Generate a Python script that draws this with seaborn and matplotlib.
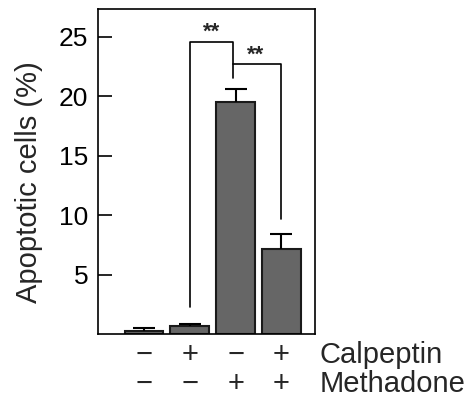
"""Bar chart of apoptotic cells with calpeptin / methadone treatment."""

import numpy as np
import pandas as pd
import seaborn as sns
import matplotlib.pyplot as plt
import matplotlib.transforms as mtransforms

groups = ["ctrl", "calpeptin", "methadone", "calpeptin+methadone"]
apoptotic = [0.30, 0.70, 19.55, 7.20]
sem = [0.26, 0.19, 1.05, 1.25]
calpeptin = ["\u2212", "+", "\u2212", "+"]
methadone = ["\u2212", "\u2212", "+", "+"]
yticks = [5, 10, 15, 20, 25]


def main() -> None:
    sns.set_theme(style="ticks")
    plt.rcParams["font.family"] = ["Liberation Sans", "DejaVu Sans"]

    fig = plt.figure(figsize=(4.72, 4.07), dpi=100)
    ax = fig.add_axes([0.2076, 0.1786, 0.4597, 0.7981])

    df = pd.DataFrame({"group": groups, "value": apoptotic})
    sns.barplot(
        data=df,
        x="group",
        y="value",
        color="#666666",
        saturation=1,
        width=0.84,
        edgecolor="#1a1a1a",
        linewidth=1.5,
        errorbar=None,
        ax=ax,
    )

    # upper error bars only
    _, caps, _ = ax.errorbar(
        np.arange(len(groups)),
        apoptotic,
        yerr=[np.zeros(len(sem)), sem],
        fmt="none",
        ecolor="black",
        elinewidth=1.5,
        capsize=8,
        capthick=1.5,
        zorder=1,
    )
    caps[0].set_visible(False)

    ax.set_xlim(-1.0, 3.73)
    ax.set_ylim(0, 27.3)
    ax.set_yticks(yticks)
    ax.set_xticks([])
    ax.set_xlabel("")
    ax.tick_params(axis="y", direction="in", length=10, width=1.2,
                   labelsize=19, pad=7, colors="black")
    for sp in ax.spines.values():
        sp.set_visible(True)
        sp.set_linewidth(1.2)
        sp.set_color("black")

    ax.set_ylabel("Apoptotic cells (%)", fontsize=21)
    ax.yaxis.set_label_coords(-0.253, 0.47)

    # significance brackets
    ax.plot([1.01, 1.01, 1.95, 1.95], [2.27, 24.56, 24.56, 21.5],
            color="black", lw=1.2)
    ax.plot([1.95, 3.0, 3.0], [22.69, 22.69, 9.69], color="black", lw=1.2)
    ax.text(1.48, 24.9, "**", ha="center", va="baseline",
            fontsize=16, fontweight="bold")
    ax.text(2.44, 23.0, "**", ha="center", va="baseline",
            fontsize=16, fontweight="bold")

    # treatment table under the bars
    trans = mtransforms.blended_transform_factory(ax.transData, ax.transAxes)
    for i in range(len(groups)):
        ax.text(i, -0.0874, calpeptin[i], transform=trans, ha="center",
                va="baseline", fontsize=21)
        ax.text(i, -0.1767, methadone[i], transform=trans, ha="center",
                va="baseline", fontsize=21)
    ax.text(1.023, -0.0874, "Calpeptin", transform=ax.transAxes,
            ha="left", va="baseline", fontsize=21)
    ax.text(1.023, -0.1767, "Methadone", transform=ax.transAxes,
            ha="left", va="baseline", fontsize=21)

    fig.savefig("out.png", dpi=100)
    plt.close(fig)


if __name__ == "__main__":
    main()
